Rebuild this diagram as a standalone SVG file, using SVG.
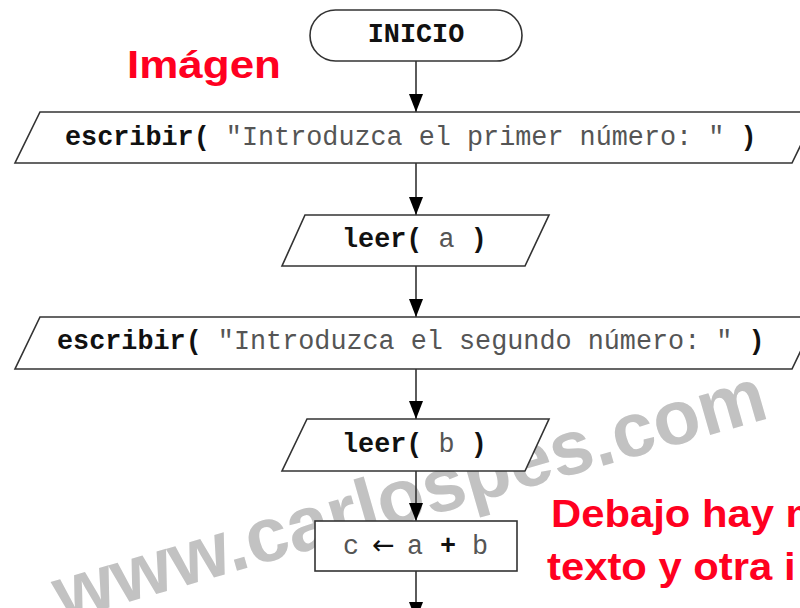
<svg xmlns="http://www.w3.org/2000/svg" width="800" height="608" viewBox="0 0 800 608">
<style>
.shape{fill:#fff;stroke:#333;stroke-width:1.6}
.mono{font-family:"Liberation Mono","Courier New",monospace;font-size:26.8px;fill:#555}
.b{font-weight:bold;fill:#111}
.conn{stroke:#333;stroke-width:1.6;fill:none;marker-end:url(#arr)}
.red{font-family:"Liberation Sans",Arial,sans-serif;font-weight:bold;font-size:38px;fill:#ff0020}
.wm{font-family:"Liberation Sans",Arial,sans-serif;font-weight:bold;font-size:77px;fill:#c2c2c2}
</style>
<defs>
<marker id="arr" markerWidth="18" markerHeight="14" refX="18" refY="7" orient="auto" markerUnits="userSpaceOnUse" viewBox="0 0 18 14">
<path d="M0,0 L18,7 L0,14 Z" fill="#000"/>
</marker>
</defs>
<rect width="800" height="608" fill="#fff"/>
<text class="wm" transform="translate(62,621) rotate(-16)">www.carlospes.com</text>
<g id="connectors">
<line class="conn" x1="416" y1="61" x2="416" y2="112"/>
<line class="conn" x1="416" y1="163" x2="416" y2="215"/>
<line class="conn" x1="416" y1="266" x2="416" y2="317"/>
<line class="conn" x1="416" y1="369" x2="416" y2="419"/>
<line class="conn" x1="416" y1="471" x2="416" y2="521"/>
<line class="conn" x1="416" y1="571" x2="416" y2="620"/>
</g>
<g id="inicio">
<rect class="shape" x="310" y="10" width="212" height="51" rx="25.5" ry="25.5"/>
<text class="mono b" x="416" y="42" text-anchor="middle">INICIO</text>
</g>
<g id="escribir1">
<polygon class="shape" points="40,112 817,112 792,163 15,163"/>
<text class="mono" x="65" y="145"><tspan class="b">escribir(</tspan> "Introduzca el primer número: " <tspan class="b">)</tspan></text>
</g>
<g id="leer_a">
<polygon class="shape" points="305,215 549,215 525,266 282,266"/>
<text class="mono" x="342" y="247"><tspan class="b">leer(</tspan> a <tspan class="b">)</tspan></text>
</g>
<g id="escribir2">
<polygon class="shape" points="40,317 817,317 792,369 15,369"/>
<text class="mono" x="57" y="349"><tspan class="b">escribir(</tspan> "Introduzca el segundo número: " <tspan class="b">)</tspan></text>
</g>
<g id="leer_b">
<polygon class="shape" points="307,419 549,419 525,471 282,471"/>
<text class="mono" x="342" y="452"><tspan class="b">leer(</tspan> b <tspan class="b">)</tspan></text>
</g>
<g id="asignacion">
<rect class="shape" x="315" y="521" width="202" height="50"/>
<text class="mono" y="554"><tspan x="343">c</tspan><tspan x="372" style="font-family:'DejaVu Sans',sans-serif;font-size:27px;fill:#111">←</tspan><tspan x="407">a</tspan><tspan x="440" class="b">+</tspan><tspan x="472">b</tspan></text>
</g>
<text class="red" x="127" y="78" font-size="42" textLength="154" lengthAdjust="spacingAndGlyphs">Imágen</text>
<text class="red" transform="translate(551,527) scale(1.1,1)">Debajo hay m</text>
<text class="red" transform="translate(547,580) scale(1.1,1)">texto y otra i</text>
</svg>
